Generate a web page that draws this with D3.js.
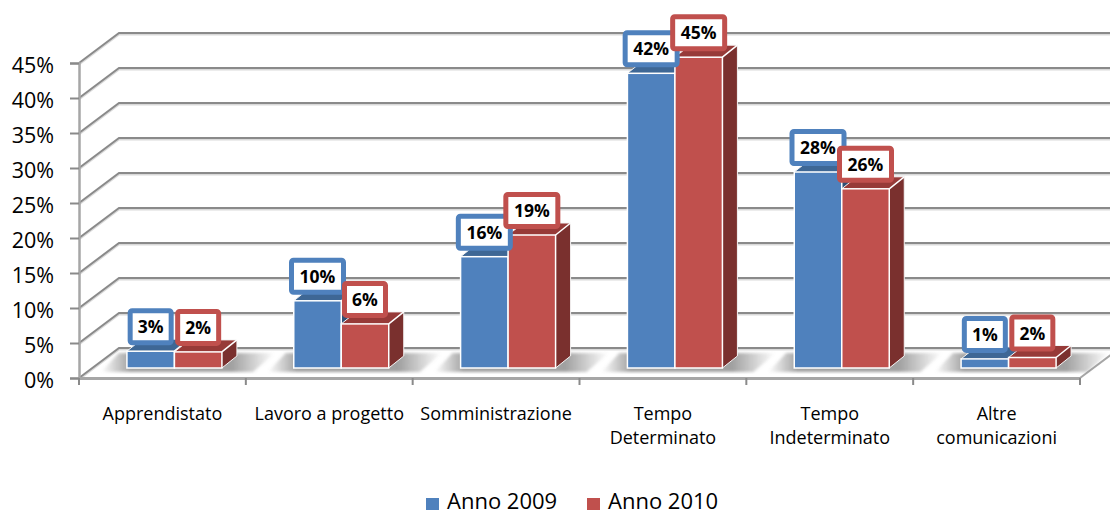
<!DOCTYPE html>
<html>
<head>
<meta charset="utf-8">
<script src="https://cdnjs.cloudflare.com/ajax/libs/d3/7.8.5/d3.min.js"></script>
<style>
html, body { margin: 0; padding: 0; background: #fff; }
svg { display: block; }
text { font-family: "Open Sans", sans-serif; fill: #000; }
</style>
</head>
<body>
<svg id="chart" width="1110" height="515"></svg>
<script>
// values
const categories = ["Apprendistato", "Lavoro a progetto", "Somministrazione", "Tempo Determinato", "Tempo Indeterminato", "Altre comunicazioni"];
const tickLines = [["Apprendistato"], ["Lavoro a progetto"], ["Somministrazione"], ["Tempo", "Determinato"], ["Tempo", "Indeterminato"], ["Altre", "comunicazioni"]];
const values2009 = [2.4, 9.6, 15.9, 42.1, 28, 1.3];
const values2010 = [2.3, 6.3, 19, 44.4, 25.6, 1.5];
const labels2009 = ["3%", "10%", "16%", "42%", "28%", "1%"];
const labels2010 = ["2%", "6%", "19%", "45%", "26%", "2%"];
const yTicks = [0, 5, 10, 15, 20, 25, 30, 35, 40, 45];
const seriesNames = ["Anno 2009", "Anno 2010"];

const svg = d3.select("#chart");

// 3d offsets
const wallDx = 40, wallDy = -30;
const barDx = 15, barDy = -12;
const barFloor = 10;   // bars stand a bit behind the front edge
const groupShift = 12;

const x = d3.scaleBand().domain(categories).range([79, 1080]);
const y = d3.scaleLinear().domain([0, 45]).range([378, 63]);
const x1 = d3.scaleBand().domain(seriesNames).range([0, 95]);

const groupX = (c) => x(c) + x.bandwidth() / 2 + groupShift - 47.5;
const barTop = (v) => y(v) - barFloor;
const barBase = y(0) - barFloor;

const defs = svg.append("defs");
const shadowGrad = defs.append("linearGradient").attr("id", "floorShadow");
shadowGrad.append("stop").attr("offset", "0").attr("stop-color", "#777").attr("stop-opacity", 0);
shadowGrad.append("stop").attr("offset", "0.17").attr("stop-color", "#777").attr("stop-opacity", 0.7);
shadowGrad.append("stop").attr("offset", "0.75").attr("stop-color", "#777").attr("stop-opacity", 0.7);
shadowGrad.append("stop").attr("offset", "1").attr("stop-color", "#777").attr("stop-opacity", 0);
defs.append("filter").attr("id", "soft").append("feGaussianBlur").attr("stdDeviation", 1.5);

const poly = (pts) => pts.map(p => p.join(",")).join(" ");

// floor
svg.append("polygon")
    .attr("points", poly([[79, y(0)], [79 + wallDx, y(0) + wallDy], [1080 + wallDx, y(0) + wallDy], [1080, y(0)]]))
    .attr("fill", "#fff");

// walls: gridlines with their light under-shadow
yTicks.forEach((t) => {
    const path = `M79,${y(t)}L${79 + wallDx},${y(t) + wallDy}L${1080 + wallDx},${y(t) + wallDy}`;
    svg.append("path").attr("d", path).attr("fill", "none").attr("stroke", "#d9d9d9").attr("stroke-width", 2).attr("transform", "translate(0,1.5)");
    svg.append("path").attr("d", path).attr("fill", "none").attr("stroke", "#8a8a8a").attr("stroke-width", 2);
});

// right edge of the floor
svg.append("line")
    .attr("x1", 1080).attr("y1", y(0)).attr("x2", 1080 + wallDx).attr("y2", y(0) + wallDy)
    .attr("stroke", "#a6a6a6").attr("stroke-width", 2);

// y axis
const yAxis = svg.append("g")
    .attr("transform", "translate(79,0)")
    .call(d3.axisLeft(y).tickValues(yTicks).tickSize(9).tickPadding(16).tickFormat(d => d + "%"));
yAxis.selectAll("text").style("font-size", "21.5px").attr("dy", "0.45em");
yAxis.selectAll("line").attr("stroke", "#8a8a8a").attr("stroke-width", 2);
yAxis.select(".domain").attr("stroke", "#a6a6a6").attr("stroke-width", 2.5);

// x axis, ticks go on the band edges so the built-in ones are dropped
const xAxis = svg.append("g")
    .attr("transform", "translate(0," + y(0) + ")")
    .call(d3.axisBottom(x).tickSize(0).tickPadding(0));
xAxis.select(".domain").attr("stroke", "#a6a6a6").attr("stroke-width", 3);
xAxis.selectAll(".tick text").each(function (d, i) {
    const t = d3.select(this).text(null).attr("y", 0).attr("dy", null).style("font-size", "18px");
    tickLines[i].forEach((line, k) => {
        t.append("tspan").attr("x", 0).attr("y", 42 + k * 24).text(line);
    });
});
d3.range(categories.length + 1).forEach((i) => {
    svg.append("line")
        .attr("x1", 79 + i * x.step()).attr("x2", 79 + i * x.step())
        .attr("y1", y(0)).attr("y2", y(0) + 7)
        .attr("stroke", "#8a8a8a").attr("stroke-width", 2);
});

// floor shadows
svg.selectAll(".shadow").data(categories).enter().append("polygon")
    .attr("class", "shadow")
    .attr("points", (c) => {
        const g = groupX(c);
        return poly([[g - 26, barBase + 4], [g - 8, barBase - 15], [g + 148, barBase - 15], [g + 126, barBase + 4]]);
    })
    .attr("fill", "url(#floorShadow)")
    .attr("filter", "url(#soft)");

const drawBar = (c, v, left, w, front, top, side) => {
    const yT = barTop(v);
    const g = svg.append("g");
    g.append("polygon")
        .attr("points", poly([[left, yT], [left + barDx, yT + barDy], [left + w + barDx, yT + barDy], [left + w, yT]]))
        .attr("fill", top);
    g.append("polygon")
        .attr("points", poly([[left + w, yT], [left + w + barDx, yT + barDy], [left + w + barDx, barBase + barDy], [left + w, barBase]]))
        .attr("fill", side);
    g.append("path")
        .attr("d", `M${left},${yT}L${left + barDx},${yT + barDy}L${left + w + barDx},${yT + barDy}L${left + w + barDx},${barBase + barDy}L${left + w},${barBase}`)
        .attr("fill", "none").attr("stroke", "#f4f4f4").attr("stroke-width", 1);
    g.append("line")
        .attr("x1", left + w).attr("y1", yT).attr("x2", left + w + barDx).attr("y2", yT + barDy)
        .attr("stroke", "#fff").attr("stroke-width", 1.5);
    g.append("rect")
        .attr("x", left).attr("y", yT).attr("width", w).attr("height", barBase - yT)
        .attr("fill", front).attr("stroke", "#fff").attr("stroke-width", 1.5);
};

const blues = { front: "#4f81bd", top: "#3e6795", side: "#2f4f75" };
const reds = { front: "#c0504d", top: "#973a38", side: "#7a302e" };

categories.forEach((c, i) => {
    const g = groupX(c);
    drawBar(c, values2009[i], g + x1(seriesNames[0]), x1.bandwidth(), blues.front, blues.top, blues.side);
    drawBar(c, values2010[i], g + x1(seriesNames[1]), x1.bandwidth(), reds.front, reds.top, reds.side);
});

const drawLabel = (c, v, txt, left, w, color) => {
    const cx = left + w / 2;
    const boxW = txt.length > 2 ? 52 : 41;
    const boxH = 32;
    const bottom = barTop(v) - 8.5;
    svg.append("rect")
        .attr("x", cx - boxW / 2).attr("y", bottom - boxH)
        .attr("width", boxW).attr("height", boxH)
        .attr("rx", 2)
        .attr("fill", "#fff").attr("stroke", color).attr("stroke-width", 5);
    svg.append("text")
        .attr("x", cx).attr("y", bottom - boxH / 2 + 6.5)
        .attr("text-anchor", "middle")
        .style("font-size", "17.5px").style("font-weight", 700)
        .text(txt);
};

categories.forEach((c, i) => {
    const g = groupX(c);
    drawLabel(c, values2009[i], labels2009[i], g + x1(seriesNames[0]), x1.bandwidth(), blues.front);
    drawLabel(c, values2010[i], labels2010[i], g + x1(seriesNames[1]), x1.bandwidth(), reds.front);
});

// legend, sits a little high so the text box stays inside the window
const legendX = d3.scaleOrdinal().domain(seriesNames).range([426, 587]);
seriesNames.forEach((name, i) => {
    svg.append("rect")
        .attr("x", legendX(name)).attr("y", 498).attr("width", 13).attr("height", 12)
        .attr("fill", i === 0 ? blues.front : reds.front);
    svg.append("text")
        .attr("x", legendX(name) + 21).attr("y", 509)
        .style("font-size", "22px")
        .text(name);
});
</script>
</body>
</html>
